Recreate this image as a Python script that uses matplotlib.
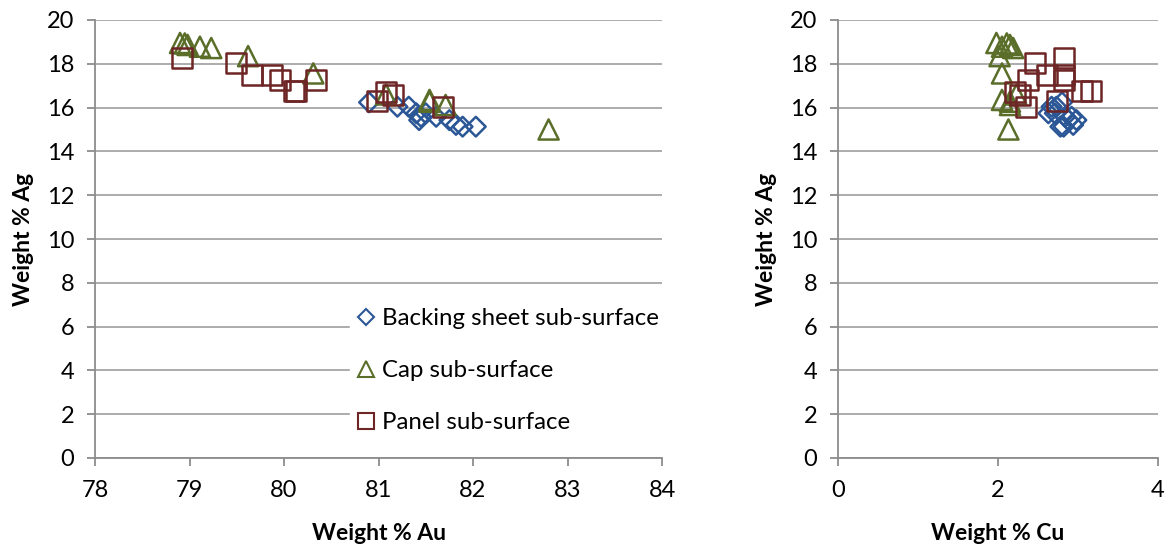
import matplotlib
matplotlib.use("Agg")
import matplotlib.pyplot as plt
from matplotlib.lines import Line2D

plt.rcParams['font.family'] = ['Lato', 'DejaVu Sans']

# Backing sheet sub-surface
back_au = [80.90, 81.20, 81.32, 81.40, 81.45, 81.50, 81.43, 81.61, 81.75, 81.82, 81.89, 82.03]
back_cu = [2.80, 2.67, 2.73, 2.71, 2.84, 2.63, 2.98, 2.92, 2.88, 2.94, 2.82, 2.78]
back_ag = [16.24, 16.04, 16.04, 15.74, 15.58, 15.74, 15.43, 15.58, 15.43, 15.21, 15.13, 15.13]

# Cap sub-surface
cap_au = [78.90, 78.95, 78.98, 79.11, 79.23, 79.62, 80.31, 81.08, 81.54, 81.54, 81.71, 82.80]
cap_cu = [1.98, 2.11, 2.15, 2.05, 2.19, 2.02, 2.05, 2.23, 2.05, 2.15, 2.15, 2.13]
cap_ag = [18.95, 18.93, 18.86, 18.78, 18.72, 18.35, 17.56, 16.60, 16.35, 16.27, 16.12, 15.00]

# Panel sub-surface
panel_au = [78.92, 79.49, 79.66, 79.87, 79.96, 80.11, 80.13, 80.34, 80.98, 81.08, 81.15, 81.68]
panel_cu = [2.82, 2.46, 2.61, 2.82, 2.38, 3.05, 3.16, 2.82, 2.74, 2.21, 2.27, 2.35]
panel_ag = [18.25, 18.02, 17.49, 17.49, 17.26, 16.77, 16.77, 17.26, 16.30, 16.72, 16.58, 16.01]

series_names = ["Backing sheet sub-surface", "Cap sub-surface", "Panel sub-surface"]
colors = ["#2B5797", "#5A6E2A", "#6E2525"]
markers = ["D", "^", "s"]
sizes = [100, 210, 210]

grid_c = "#A6A6A6"
axis_c = "#8C8C8C"

fig = plt.figure(figsize=(11.72, 5.46), dpi=100)
ax1 = fig.add_axes([95/1172, 1-458/546, (662-95)/1172, 438/546])
ax2 = fig.add_axes([838/1172, 1-458/546, (1158-838)/1172, 438/546])


def style(ax, xlim, xticks, xlabel):
    ax.set_xlim(*xlim)
    ax.set_ylim(0, 20)
    ax.set_xticks(xticks)
    ax.set_yticks(range(0, 21, 2))
    ax.yaxis.grid(True, color=grid_c, linewidth=1.3)
    ax.set_axisbelow(True)
    for s in ("top", "right"):
        ax.spines[s].set_visible(False)
    for s in ("left", "bottom"):
        ax.spines[s].set_color(axis_c)
        ax.spines[s].set_linewidth(1.3)
    ax.tick_params(axis="both", direction="out", length=6, width=1.3,
                   color=axis_c, labelcolor="black")
    ax.tick_params(axis="x", pad=10)
    ax.tick_params(axis="y", pad=9)
    for lab in ax.get_xticklabels() + ax.get_yticklabels():
        lab.set_fontsize(17)
    ax.set_xlabel(xlabel, fontsize=16.5, fontweight="bold", labelpad=16)
    ax.set_ylabel("Weight % Ag", fontsize=16.5, fontweight="bold", labelpad=9)


xs_au = [back_au, cap_au, panel_au]
xs_cu = [back_cu, cap_cu, panel_cu]
ys = [back_ag, cap_ag, panel_ag]

for x, y, c, m, s in zip(xs_au, ys, colors, markers, sizes):
    ax1.scatter(x, y, marker=m, s=s, facecolors="none", edgecolors=c,
                linewidths=1.8, clip_on=False)
for x, y, c, m, s in zip(xs_cu, ys, colors, markers, sizes):
    ax2.scatter(x, y, marker=m, s=s, facecolors="none", edgecolors=c,
                linewidths=1.8, clip_on=False)

style(ax1, (78, 84), range(78, 85), "Weight % Au")
style(ax2, (0, 4), [0, 2, 4], "Weight % Cu")

handles = [
    Line2D([], [], linestyle="none", marker=m, markersize=ms,
           markerfacecolor="none", markeredgecolor=c, markeredgewidth=1.5)
    for m, c, ms in zip(markers, colors, [8.5, 11.5, 11.5])
]
leg = fig.legend(handles, series_names, loc="upper left",
                 bbox_to_anchor=(350/1172, 1-302/546), frameon=True,
                 fontsize=17.3, handlelength=0.8, handletextpad=0.3,
                 labelspacing=1.3, borderpad=0.25, borderaxespad=0)
leg.get_frame().set_facecolor("white")
leg.get_frame().set_edgecolor("white")
leg.get_frame().set_alpha(1)

fig.savefig("out.png", dpi=100, facecolor="white")
